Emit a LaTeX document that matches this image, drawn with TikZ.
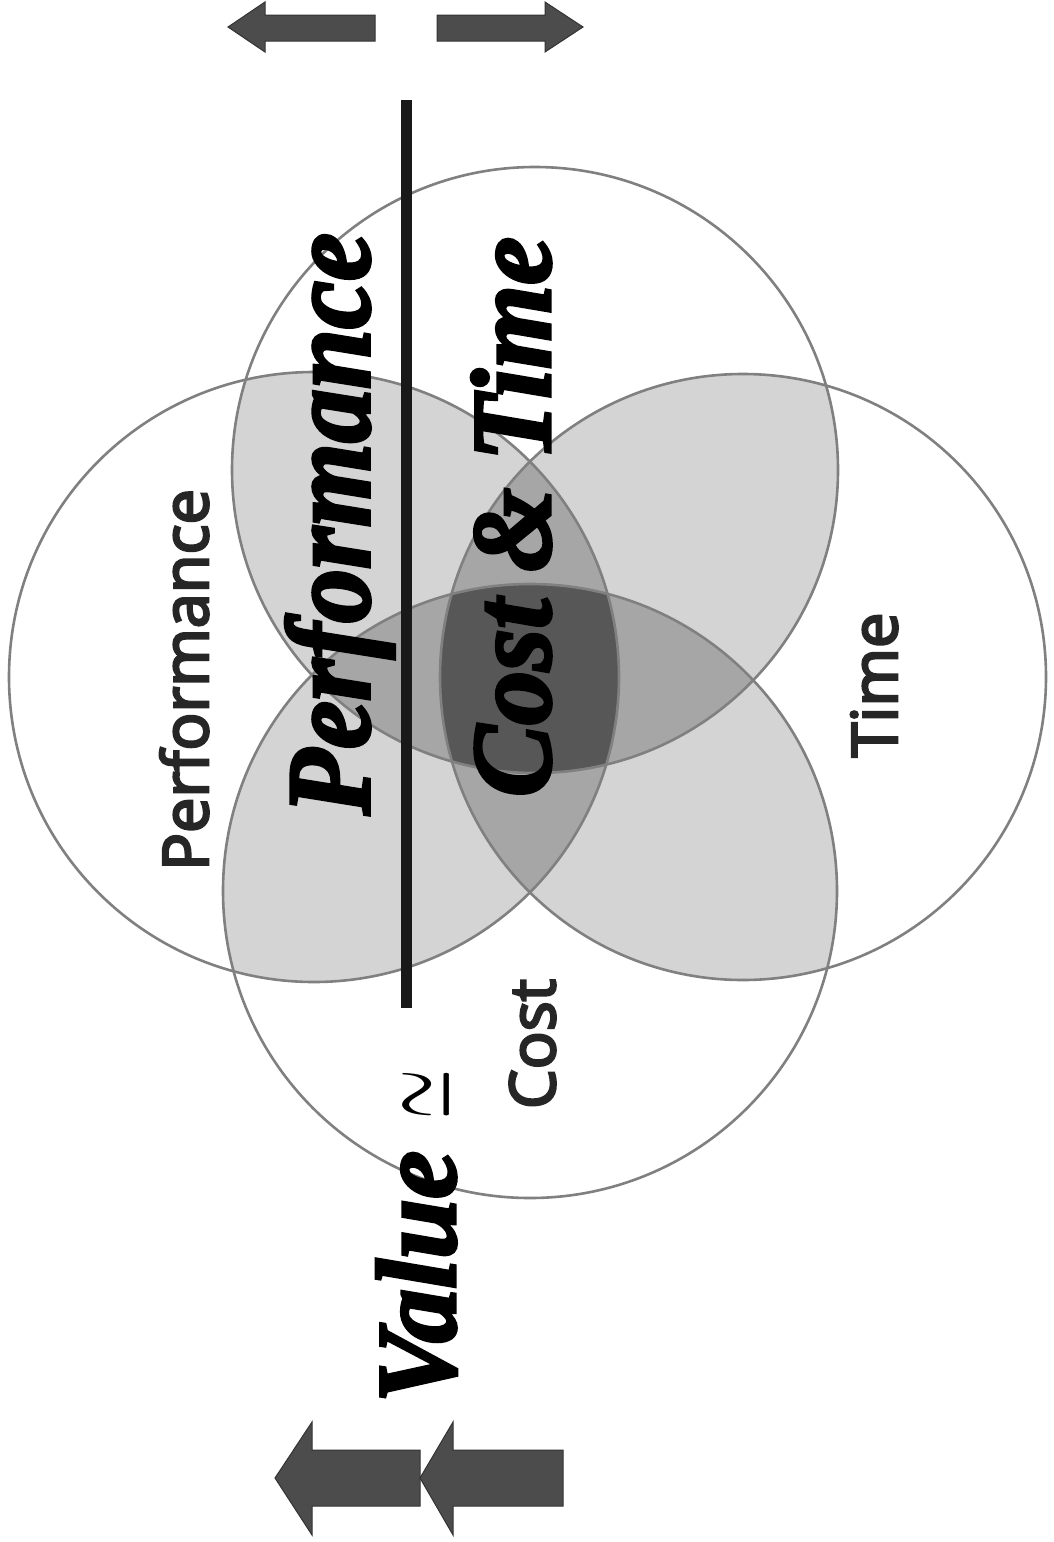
\documentclass[tikz,border=0pt]{standalone}
\usepackage{fontspec}
\setmainfont{Liberation Serif}
\newfontfamily\bigser{Liberation Serif Bold Italic}[FakeBold=3]
\newfontfamily\sansf{Open Sans}[FakeBold=4]
\newfontfamily\symf{latinmodern-math.otf}
\begin{document}
\begin{tikzpicture}[x=1pt,y=-1pt,
  light/.style={fill=black!17},
  mid/.style={fill=black!35},
  dark/.style={fill=black!66},
  ring/.style={draw=black!50,line width=2.6pt},
  bigtxt/.style={rotate=90,anchor=base,inner sep=0pt,font=\fontsize{108}{120}\bigser},
  smalltxt/.style={rotate=90,anchor=base,inner sep=0pt,font=\fontsize{63}{70}\sansf,text=black!85},
  blockarrow/.style={fill=black!70,draw=black!80,line width=1pt}]
\useasboundingbox (0,0) rectangle (1053,1542);
\fill[white] (0,0) rectangle (1053,1542);
\def\cL{(314,677) circle[radius=305pt]}
\def\cR{(743,677) circle[radius=303pt]}
\def\cT{(535,470) circle[radius=303pt]}
\def\cB{(530,891) circle[radius=307pt]}
% pair intersections
\begin{scope}\clip \cL; \fill[light] \cT; \end{scope}
\begin{scope}\clip \cL; \fill[light] \cB; \end{scope}
\begin{scope}\clip \cL; \fill[light] \cR; \end{scope}
\begin{scope}\clip \cR; \fill[light] \cT; \end{scope}
\begin{scope}\clip \cR; \fill[light] \cB; \end{scope}
\begin{scope}\clip \cT; \fill[light] \cB; \end{scope}
% triple intersections
\begin{scope}\clip \cL; \clip \cT; \fill[mid] \cB; \end{scope}
\begin{scope}\clip \cL; \clip \cT; \fill[mid] \cR; \end{scope}
\begin{scope}\clip \cL; \clip \cB; \fill[mid] \cR; \end{scope}
\begin{scope}\clip \cR; \clip \cT; \fill[mid] \cB; \end{scope}
% quadruple
\begin{scope}\clip \cL; \clip \cT; \clip \cB; \fill[dark] \cR; \end{scope}
% outlines
\draw[ring] \cL;
\draw[ring] \cR;
\draw[ring] \cT;
\draw[ring] \cB;
% fraction bar
\coordinate (bartop) at (406,100);
\coordinate (barbot) at (406,1008);
\draw[line width=11pt,black!90] (bartop) -- (barbot);
% labels
\node[smalltxt] (lperf) at (208,680) {Performance};
\node[smalltxt] (ltime) at (897,685) {Time};
\node[smalltxt] (lcost) at (555,1044) {Cost};
\node[bigtxt] (num) at (369,524) {\scalebox{1}[1.1]{Performance}};
\node[bigtxt] (den) at (550,517) {\scalebox{1}[1.05]{Cost \& Time}};
\node[bigtxt] (val) at (455,1277) {\scalebox{1}[1.05]{Value}};
\node[rotate=90,inner sep=0pt,font=\fontsize{64}{70}\symf] (approx) at (434,1095) {\scalebox{1}[2.1]{≃}};
% arrows top
\draw[blockarrow] (228,27) -- (265,2) -- (265,15) -- (375,15) -- (375,41) -- (265,41) -- (265,52) -- cycle;
\draw[blockarrow] (583,27) -- (545,2) -- (545,15) -- (437,15) -- (437,41) -- (545,41) -- (545,52) -- cycle;
% arrows bottom
\draw[blockarrow] (275,1478) -- (312,1422) -- (312,1450) -- (420,1450) -- (420,1506) -- (312,1506) -- (312,1535) -- cycle;
\draw[blockarrow] (420,1478) -- (453,1422) -- (453,1450) -- (563,1450) -- (563,1506) -- (453,1506) -- (453,1535) -- cycle;
\end{tikzpicture}
\end{document}
